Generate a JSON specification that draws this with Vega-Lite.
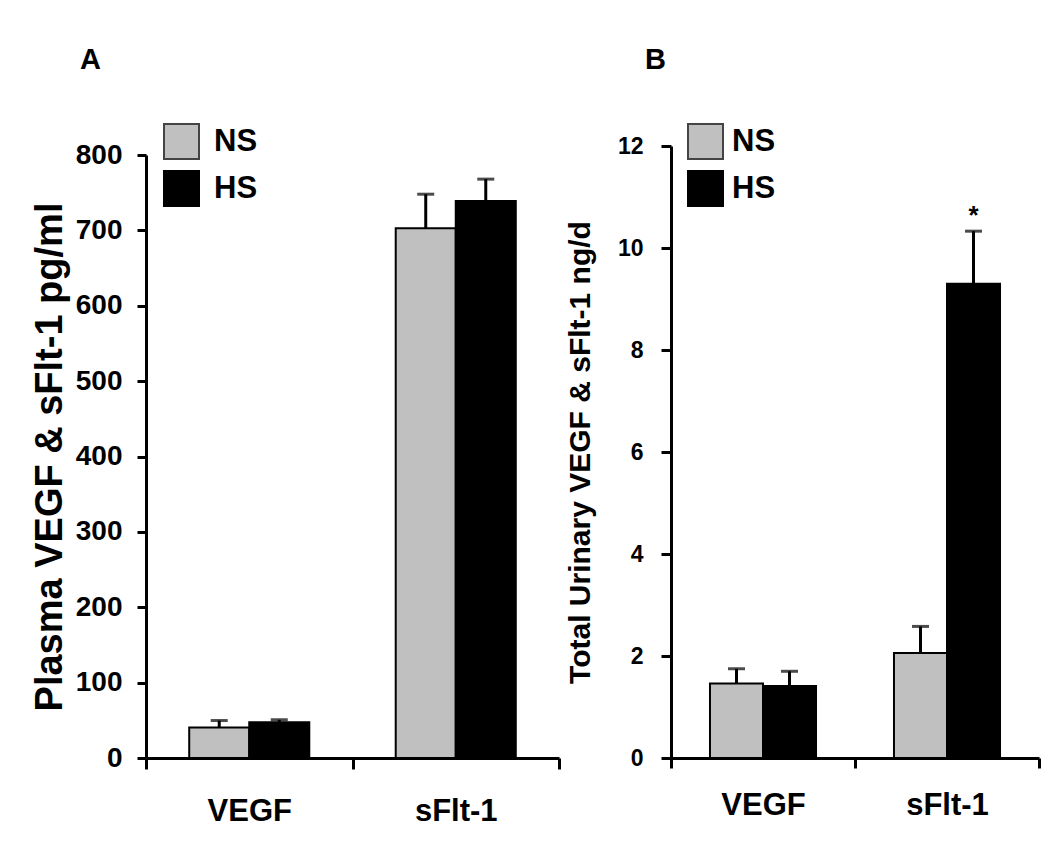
{
  "$schema": "https://vega.github.io/schema/vega-lite/v6.json",
  "background": "white",
  "padding": {"left": 31, "top": 46, "right": 5, "bottom": 5},
  "config": {
    "view": {"stroke": null},
    "font": "Liberation Sans"
  },
  "spacing": 4,
  "resolve": {"scale": {"color": "independent", "x": "independent", "y": "independent", "xOffset": "independent"}, "legend": {"color": "independent"}},
  "hconcat": [
    {
      "width": 413,
      "height": 612,
      "title": {"text": "A", "anchor": "start", "frame": "group", "dx": -66, "offset": 48, "fontSize": 29, "font": "Liberation Sans", "fontWeight": "bold", "color": "#000"},
      "data": {"values": [
        {"cat": "VEGF", "grp": "NS", "mean": 40.4, "upper": 49.7, "sig": ""},
        {"cat": "VEGF", "grp": "HS", "mean": 47.5, "upper": 50.7, "sig": ""},
        {"cat": "sFlt-1", "grp": "NS", "mean": 702.7, "upper": 748, "sig": ""},
        {"cat": "sFlt-1", "grp": "HS", "mean": 739, "upper": 768, "sig": ""}
      ]},
      "encoding": {
        "x": {"field": "cat", "type": "nominal", "sort": ["VEGF", "sFlt-1"], "title": null,
          "scale": {"paddingInner": 0, "paddingOuter": 0},
          "axis": {"labelAngle": 0, "tickBand": "extent", "domainColor": "#000", "domainWidth": 3, "tickColor": "#000", "tickWidth": 3, "tickSize": 11,
            "labelFont": "Liberation Sans", "labelFontSize": 31, "labelFontWeight": "bold", "labelColor": "#000", "labelPadding": 27}},
        "xOffset": {"field": "grp", "type": "nominal", "sort": ["NS", "HS"], "scale": {"paddingInner": 0, "paddingOuter": 0.72}}
      },
      "layer": [
        {
          "mark": {"type": "bar", "stroke": "#000", "strokeWidth": 2},
          "encoding": {
            "y": {"field": "mean", "type": "quantitative", "scale": {"domain": [0, 800], "nice": false, "range": [612, 9]},
              "axis": {"values": [0, 100, 200, 300, 400, 500, 600, 700, 800], "grid": false, "domainColor": "#000", "domainWidth": 3, "tickColor": "#000", "tickWidth": 3, "tickSize": 9,
                "labelFont": "Liberation Sans", "labelFontSize": 28, "labelFontWeight": "bold", "labelColor": "#000", "labelPadding": 15,
                "title": "Plasma VEGF & sFlt-1 pg/ml", "titleFont": "Liberation Sans", "titleFontSize": 38, "titleFontWeight": "bold", "titleColor": "#000", "titlePadding": 6}},
            "color": {"field": "grp", "type": "nominal", "sort": ["NS", "HS"], "scale": {"domain": ["NS", "HS"], "range": ["#c0c0c0", "#000000"]},
              "legend": {"orient": "none", "legendX": 17, "legendY": -23, "title": null, "symbolType": "square", "symbolSize": 1225, "symbolStrokeColor": "#000", "symbolStrokeWidth": 2,
                "labelFont": "Liberation Sans", "labelFontSize": 31, "labelFontWeight": "bold", "labelColor": "#000", "labelOffset": 14, "rowPadding": 4, "padding": 0,
                "encode": {"symbols": {"update": {"fill": {"signal": "datum.value === 'NS' ? '#dcdcdc' : '#000000'"}, "stroke": {"signal": "datum.value === 'NS' ? '#444444' : '#000000'"}}}}}}
          }
        },
        {
          "mark": {"type": "rule", "color": "#000", "strokeWidth": 3},
          "encoding": {"y": {"field": "mean", "type": "quantitative"}, "y2": {"field": "upper"}}
        },
        {
          "mark": {"type": "tick", "color": "#000", "size": 17, "thickness": 3},
          "encoding": {"y": {"field": "upper", "type": "quantitative"}}
        }
      ]
    },
    {
      "width": 368,
      "height": 612,
      "title": {"text": "B", "anchor": "start", "frame": "group", "dx": -26, "offset": 48, "fontSize": 29, "font": "Liberation Sans", "fontWeight": "bold", "color": "#000"},
      "data": {"values": [
        {"cat": "VEGF", "grp": "NS", "mean": 1.46, "upper": 1.75, "sig": ""},
        {"cat": "VEGF", "grp": "HS", "mean": 1.41, "upper": 1.70, "sig": ""},
        {"cat": "sFlt-1", "grp": "NS", "mean": 2.06, "upper": 2.58, "sig": ""},
        {"cat": "sFlt-1", "grp": "HS", "mean": 9.30, "upper": 10.33, "sig": "*"}
      ]},
      "encoding": {
        "x": {"field": "cat", "type": "nominal", "sort": ["VEGF", "sFlt-1"], "title": null,
          "scale": {"paddingInner": 0, "paddingOuter": 0},
          "axis": {"labelAngle": 0, "tickBand": "extent", "domainColor": "#000", "domainWidth": 3, "tickColor": "#000", "tickWidth": 3, "tickSize": 10,
            "labelFont": "Liberation Sans", "labelFontSize": 31, "labelFontWeight": "bold", "labelColor": "#000", "labelPadding": 22}},
        "xOffset": {"field": "grp", "type": "nominal", "sort": ["NS", "HS"], "scale": {"paddingInner": 0, "paddingOuter": 0.735}}
      },
      "layer": [
        {
          "mark": {"type": "bar", "stroke": "#000", "strokeWidth": 2},
          "encoding": {
            "y": {"field": "mean", "type": "quantitative", "scale": {"domain": [0, 12], "nice": false},
              "axis": {"values": [0, 2, 4, 6, 8, 10, 12], "grid": false, "domainColor": "#000", "domainWidth": 3, "tickColor": "#000", "tickWidth": 3, "tickSize": 10,
                "labelFont": "Liberation Sans", "labelFontSize": 23, "labelFontWeight": "bold", "labelColor": "#000", "labelPadding": 18,
                "title": "Total Urinary VEGF & sFlt-1 ng/d", "titleFont": "Liberation Sans", "titleFontSize": 30, "titleFontWeight": "bold", "titleColor": "#000", "titlePadding": 22}},
            "color": {"field": "grp", "type": "nominal", "sort": ["NS", "HS"], "scale": {"domain": ["NS", "HS"], "range": ["#c0c0c0", "#000000"]},
              "legend": {"orient": "none", "legendX": 16, "legendY": -23, "title": null, "symbolType": "square", "symbolSize": 1225, "symbolStrokeColor": "#000", "symbolStrokeWidth": 2,
                "labelFont": "Liberation Sans", "labelFontSize": 31, "labelFontWeight": "bold", "labelColor": "#000", "labelOffset": 8, "rowPadding": 4, "padding": 0,
                "encode": {"symbols": {"update": {"fill": {"signal": "datum.value === 'NS' ? '#dcdcdc' : '#000000'"}, "stroke": {"signal": "datum.value === 'NS' ? '#444444' : '#000000'"}}}}}}
          }
        },
        {
          "mark": {"type": "rule", "color": "#000", "strokeWidth": 3},
          "encoding": {"y": {"field": "mean", "type": "quantitative"}, "y2": {"field": "upper"}}
        },
        {
          "mark": {"type": "tick", "color": "#000", "size": 17, "thickness": 3},
          "encoding": {"y": {"field": "upper", "type": "quantitative"}}
        },
        {
          "mark": {"type": "text", "color": "#000", "fontSize": 26, "font": "Liberation Sans", "fontWeight": "bold", "baseline": "middle", "dy": -15},
          "encoding": {"y": {"field": "upper", "type": "quantitative"}, "text": {"field": "sig"}}
        }
      ]
    }
  ]
}
